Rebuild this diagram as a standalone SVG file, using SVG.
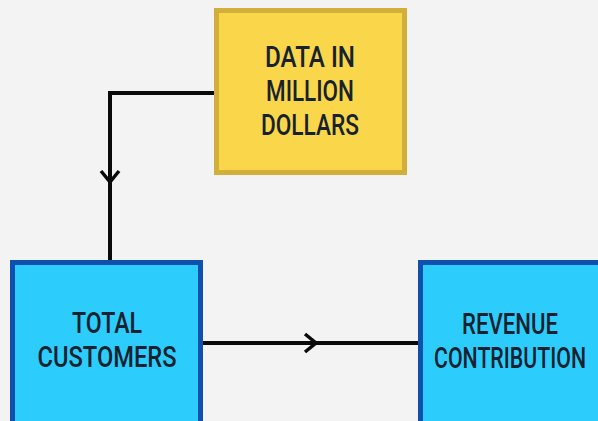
<svg xmlns="http://www.w3.org/2000/svg" width="598" height="421" viewBox="0 0 598 421">
  <style>
    .lbl { font-family: Roboto, "Liberation Sans", Arial, sans-serif; font-weight: 500; font-size: 30px; fill: #17222e; text-anchor: middle; }
    .blue { fill: #2ccdfd; stroke: #0f4fae; stroke-width: 5; }
    .gold { fill: #fad74a; stroke: #d2ae3a; stroke-width: 5; }
    .wire { fill: none; stroke: #0a0a0a; stroke-width: 4; }
    .chev { fill: none; stroke: #0a0a0a; stroke-width: 3.5; stroke-linejoin: miter; }
  </style>
  <rect width="598" height="421" fill="#f3f3f3"/>

  <g id="connectors">
    <path class="wire" d="M216 93 H110 V261"/>
    <path class="chev" d="M101 171 L110 182 L119 171"/>
    <path class="wire" d="M202 343 H420"/>
    <path class="chev" d="M305 334 L316 343 L305 352"/>
  </g>

  <g id="data-in-million-dollars">
    <rect class="gold" x="216.5" y="10.5" width="188" height="162"/>
    <text class="lbl" x="310" y="67" textLength="90" lengthAdjust="spacingAndGlyphs">DATA IN</text>
    <text class="lbl" x="310" y="101" textLength="88" lengthAdjust="spacingAndGlyphs">MILLION</text>
    <text class="lbl" x="310" y="135" textLength="98" lengthAdjust="spacingAndGlyphs">DOLLARS</text>
  </g>

  <g id="total-customers">
    <rect class="blue" x="12.5" y="262.5" width="188" height="170"/>
    <text class="lbl" x="107" y="333" textLength="70" lengthAdjust="spacingAndGlyphs">TOTAL</text>
    <text class="lbl" x="107" y="367" textLength="139" lengthAdjust="spacingAndGlyphs">CUSTOMERS</text>
  </g>

  <g id="revenue-contribution">
    <rect class="blue" x="420.5" y="262.5" width="200" height="170"/>
    <text class="lbl" x="510" y="334" textLength="96" lengthAdjust="spacingAndGlyphs">REVENUE</text>
    <text class="lbl" x="510" y="368" textLength="152" lengthAdjust="spacingAndGlyphs">CONTRIBUTION</text>
  </g>
</svg>
